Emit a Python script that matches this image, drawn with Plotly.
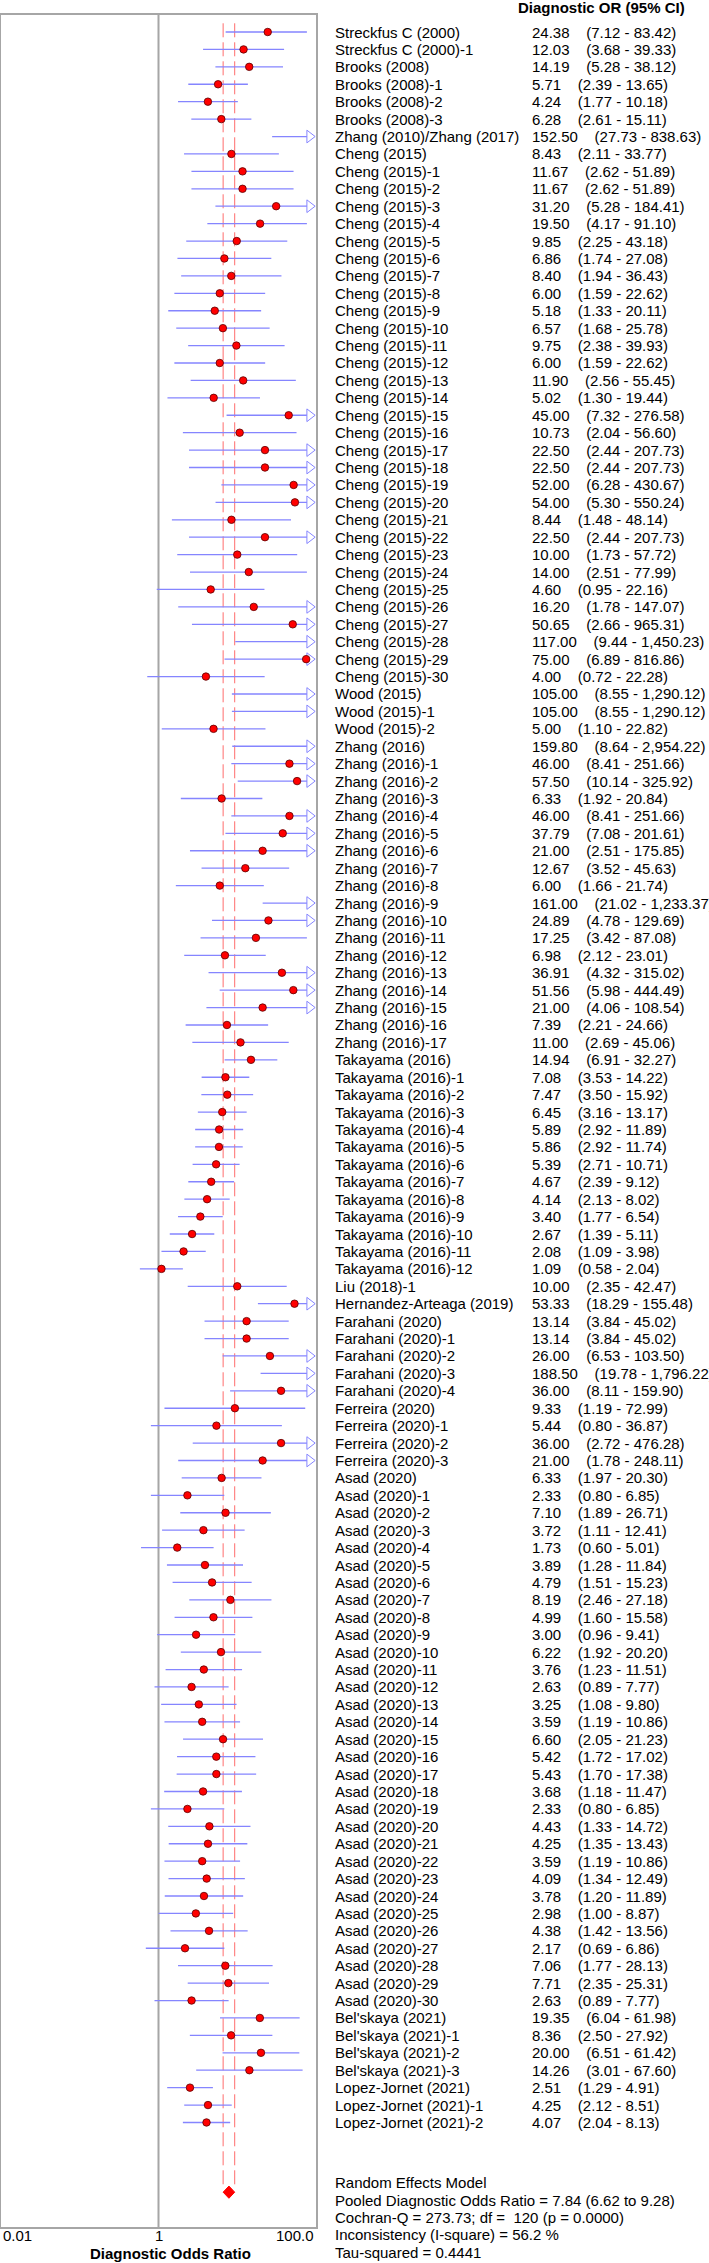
import math
import plotly.graph_objects as go

# Dados do forest plot (Diagnostic Odds Ratio e IC 95%)
studies = [
    "Streckfus C (2000)", "Streckfus C (2000)-1", "Brooks (2008)", "Brooks (2008)-1",
    "Brooks (2008)-2", "Brooks (2008)-3", "Zhang (2010)/Zhang (2017)",
    "Cheng (2015)", "Cheng (2015)-1", "Cheng (2015)-2", "Cheng (2015)-3", "Cheng (2015)-4",
    "Cheng (2015)-5", "Cheng (2015)-6", "Cheng (2015)-7", "Cheng (2015)-8", "Cheng (2015)-9",
    "Cheng (2015)-10", "Cheng (2015)-11", "Cheng (2015)-12", "Cheng (2015)-13", "Cheng (2015)-14",
    "Cheng (2015)-15", "Cheng (2015)-16", "Cheng (2015)-17", "Cheng (2015)-18", "Cheng (2015)-19",
    "Cheng (2015)-20", "Cheng (2015)-21", "Cheng (2015)-22", "Cheng (2015)-23", "Cheng (2015)-24",
    "Cheng (2015)-25", "Cheng (2015)-26", "Cheng (2015)-27", "Cheng (2015)-28", "Cheng (2015)-29",
    "Cheng (2015)-30",
    "Wood (2015)", "Wood (2015)-1", "Wood (2015)-2",
    "Zhang (2016)", "Zhang (2016)-1", "Zhang (2016)-2", "Zhang (2016)-3", "Zhang (2016)-4",
    "Zhang (2016)-5", "Zhang (2016)-6", "Zhang (2016)-7", "Zhang (2016)-8", "Zhang (2016)-9",
    "Zhang (2016)-10", "Zhang (2016)-11", "Zhang (2016)-12", "Zhang (2016)-13", "Zhang (2016)-14",
    "Zhang (2016)-15", "Zhang (2016)-16", "Zhang (2016)-17",
    "Takayama (2016)", "Takayama (2016)-1", "Takayama (2016)-2", "Takayama (2016)-3",
    "Takayama (2016)-4", "Takayama (2016)-5", "Takayama (2016)-6", "Takayama (2016)-7",
    "Takayama (2016)-8", "Takayama (2016)-9", "Takayama (2016)-10", "Takayama (2016)-11",
    "Takayama (2016)-12",
    "Liu (2018)-1", "Hernandez-Arteaga (2019)",
    "Farahani (2020)", "Farahani (2020)-1", "Farahani (2020)-2", "Farahani (2020)-3", "Farahani (2020)-4",
    "Ferreira (2020)", "Ferreira (2020)-1", "Ferreira (2020)-2", "Ferreira (2020)-3",
    "Asad (2020)", "Asad (2020)-1", "Asad (2020)-2", "Asad (2020)-3", "Asad (2020)-4",
    "Asad (2020)-5", "Asad (2020)-6", "Asad (2020)-7", "Asad (2020)-8", "Asad (2020)-9",
    "Asad (2020)-10", "Asad (2020)-11", "Asad (2020)-12", "Asad (2020)-13", "Asad (2020)-14",
    "Asad (2020)-15", "Asad (2020)-16", "Asad (2020)-17", "Asad (2020)-18", "Asad (2020)-19",
    "Asad (2020)-20", "Asad (2020)-21", "Asad (2020)-22", "Asad (2020)-23", "Asad (2020)-24",
    "Asad (2020)-25", "Asad (2020)-26", "Asad (2020)-27", "Asad (2020)-28", "Asad (2020)-29",
    "Asad (2020)-30",
    "Bel'skaya (2021)", "Bel'skaya (2021)-1", "Bel'skaya (2021)-2", "Bel'skaya (2021)-3",
    "Lopez-Jornet (2021)", "Lopez-Jornet (2021)-1", "Lopez-Jornet (2021)-2",
]

dor = [
    24.38, 12.03, 14.19, 5.71, 4.24, 6.28, 152.50,
    8.43, 11.67, 11.67, 31.20, 19.50, 9.85, 6.86, 8.40, 6.00, 5.18,
    6.57, 9.75, 6.00, 11.90, 5.02, 45.00, 10.73, 22.50, 22.50, 52.00,
    54.00, 8.44, 22.50, 10.00, 14.00, 4.60, 16.20, 50.65, 117.00, 75.00,
    4.00,
    105.00, 105.00, 5.00,
    159.80, 46.00, 57.50, 6.33, 46.00, 37.79, 21.00, 12.67, 6.00, 161.00,
    24.89, 17.25, 6.98, 36.91, 51.56, 21.00, 7.39, 11.00,
    14.94, 7.08, 7.47, 6.45, 5.89, 5.86, 5.39, 4.67, 4.14, 3.40, 2.67, 2.08, 1.09,
    10.00, 53.33,
    13.14, 13.14, 26.00, 188.50, 36.00,
    9.33, 5.44, 36.00, 21.00,
    6.33, 2.33, 7.10, 3.72, 1.73, 3.89, 4.79, 8.19, 4.99, 3.00,
    6.22, 3.76, 2.63, 3.25, 3.59, 6.60, 5.42, 5.43, 3.68, 2.33,
    4.43, 4.25, 3.59, 4.09, 3.78, 2.98, 4.38, 2.17, 7.06, 7.71, 2.63,
    19.35, 8.36, 20.00, 14.26,
    2.51, 4.25, 4.07,
]

ci_low = [
    7.12, 3.68, 5.28, 2.39, 1.77, 2.61, 27.73,
    2.11, 2.62, 2.62, 5.28, 4.17, 2.25, 1.74, 1.94, 1.59, 1.33,
    1.68, 2.38, 1.59, 2.56, 1.30, 7.32, 2.04, 2.44, 2.44, 6.28,
    5.30, 1.48, 2.44, 1.73, 2.51, 0.95, 1.78, 2.66, 9.44, 6.89,
    0.72,
    8.55, 8.55, 1.10,
    8.64, 8.41, 10.14, 1.92, 8.41, 7.08, 2.51, 3.52, 1.66, 21.02,
    4.78, 3.42, 2.12, 4.32, 5.98, 4.06, 2.21, 2.69,
    6.91, 3.53, 3.50, 3.16, 2.92, 2.92, 2.71, 2.39, 2.13, 1.77, 1.39, 1.09, 0.58,
    2.35, 18.29,
    3.84, 3.84, 6.53, 19.78, 8.11,
    1.19, 0.80, 2.72, 1.78,
    1.97, 0.80, 1.89, 1.11, 0.60, 1.28, 1.51, 2.46, 1.60, 0.96,
    1.92, 1.23, 0.89, 1.08, 1.19, 2.05, 1.72, 1.70, 1.18, 0.80,
    1.33, 1.35, 1.19, 1.34, 1.20, 1.00, 1.42, 0.69, 1.77, 2.35, 0.89,
    6.04, 2.50, 6.51, 3.01,
    1.29, 2.12, 2.04,
]

ci_high = [
    83.42, 39.33, 38.12, 13.65, 10.18, 15.11, 838.63,
    33.77, 51.89, 51.89, 184.41, 91.10, 43.18, 27.08, 36.43, 22.62, 20.11,
    25.78, 39.93, 22.62, 55.45, 19.44, 276.58, 56.60, 207.73, 207.73, 430.67,
    550.24, 48.14, 207.73, 57.72, 77.99, 22.16, 147.07, 965.31, 1450.23, 816.86,
    22.28,
    1290.12, 1290.12, 22.82,
    2954.22, 251.66, 325.92, 20.84, 251.66, 201.61, 175.85, 45.63, 21.74, 1233.37,
    129.69, 87.08, 23.01, 315.02, 444.49, 108.54, 24.66, 45.06,
    32.27, 14.22, 15.92, 13.17, 11.89, 11.74, 10.71, 9.12, 8.02, 6.54, 5.11, 3.98, 2.04,
    42.47, 155.48,
    45.02, 45.02, 103.50, 1796.22, 159.90,
    72.99, 36.87, 476.28, 248.11,
    20.30, 6.85, 26.71, 12.41, 5.01, 11.84, 15.23, 27.18, 15.58, 9.41,
    20.20, 11.51, 7.77, 9.80, 10.86, 21.23, 17.02, 17.38, 11.47, 6.85,
    14.72, 13.43, 10.86, 12.49, 11.89, 8.87, 13.56, 6.86, 28.13, 25.31, 7.77,
    61.98, 27.92, 61.42, 67.60,
    4.91, 8.51, 8.13,
]

pooled_dor = 7.84
pooled_low = 6.62
pooled_high = 9.28

stats_lines = [
    "Random Effects Model",
    "Pooled Diagnostic Odds Ratio = 7.84 (6.62 to 9.28)",
    "Cochran-Q = 273.73; df =\u00a0\u00a0120 (p = 0.0000)",
    "Inconsistency (I-square) = 56.2 %",
    "Tau-squared = 0.4441",
]

tick_vals = [0.01, 1, 100]
tick_text = ["0.01", "1", "100.0"]

# Geometria (pixels)
W, H = 709, 2263
M_L, M_R, M_T, M_B = 1, 393, 15, 36
PLOT_W = W - M_L - M_R
PLOT_H = H - M_T - M_B
XMIN, XMAX = 0.01, 100
PX_DEC = PLOT_W / (math.log10(XMAX) - math.log10(XMIN))
Y_TOP, Y_BOT = -0.976, 126.0
DIAMOND_ROW = 124
FONT = "Liberation Sans, Arial, sans-serif"
BLUE = "#8585ff"

# seta: triângulo aberto com a ponta na borda direita
ARROW_SIZE = 11
arrow_tip = ARROW_SIZE / 2 * 2 / math.sqrt(3)
ARROW_CENTER = XMAX / 10 ** (arrow_tip / PX_DEC)
ARROW_BASE = XMAX / 10 ** ((arrow_tip + ARROW_SIZE / 4) / PX_DEC)


def paper_x(px):
    return (px - M_L) / PLOT_W


def paper_y(py):
    return (H - M_B - py) / PLOT_H


rows = list(range(len(studies)))

fig = go.Figure()

# linha de nulidade (OR = 1)
fig.add_trace(go.Scatter(x=[1, 1], y=[Y_BOT + 5, Y_TOP - 5], mode="lines",
                         line=dict(color="#a6a6a6", width=2), hoverinfo="skip"))

# linhas tracejadas do IC combinado
fig.add_trace(go.Scatter(
    x=[pooled_low, pooled_low, None, pooled_high, pooled_high],
    y=[-0.5, DIAMOND_ROW - 0.35, None, -0.5, DIAMOND_ROW - 0.35],
    mode="lines", line=dict(color="rgba(255,60,60,0.75)", width=1, dash="14px,5px"),
    hoverinfo="skip"))

# intervalos de confiança
ci_x, ci_y, arrow_x, arrow_y = [], [], [], []
for i, (lo, hi) in enumerate(zip(ci_low, ci_high)):
    ci_x += [lo, min(hi, ARROW_BASE), None]
    ci_y += [i, i, None]
    if hi > XMAX:
        arrow_x.append(ARROW_CENTER)
        arrow_y.append(i)

fig.add_trace(go.Scatter(x=ci_x, y=ci_y, mode="lines",
                         line=dict(color=BLUE, width=1.3), hoverinfo="skip"))
fig.add_trace(go.Scatter(x=arrow_x, y=arrow_y, mode="markers", cliponaxis=False,
                         marker=dict(symbol="triangle-right-open", size=ARROW_SIZE,
                                     color=BLUE, line=dict(color=BLUE, width=1)),
                         hoverinfo="skip"))

# estimativas pontuais
fig.add_trace(go.Scatter(x=dor, y=rows, mode="markers", cliponaxis=True,
                         marker=dict(size=7.5, color="#ff0000",
                                     line=dict(color="#5a0000", width=0.8)),
                         hoverinfo="skip"))

# diamante do modelo de efeitos aleatórios
fig.add_trace(go.Scatter(
    x=[pooled_low, pooled_dor, pooled_high, pooled_dor, pooled_low],
    y=[DIAMOND_ROW, DIAMOND_ROW - 0.35, DIAMOND_ROW, DIAMOND_ROW + 0.35, DIAMOND_ROW],
    mode="lines", fill="toself", fillcolor="#ff0000",
    line=dict(color="#ff0000", width=1), hoverinfo="skip"))

annotations = []
sp = "\u00a0" * 4
for i, name in enumerate(studies):
    annotations.append(dict(x=paper_x(333), xref="paper", y=i, yref="y", text=name,
                            xanchor="left", yanchor="middle", showarrow=False,
                            font=dict(family=FONT, size=15, color="black")))
    val = f"{dor[i]:,.2f}{sp}({ci_low[i]:,.2f} - {ci_high[i]:,.2f})"
    annotations.append(dict(x=paper_x(530), xref="paper", y=i, yref="y", text=val,
                            xanchor="left", yanchor="middle", showarrow=False,
                            font=dict(family=FONT, size=15, color="black")))

annotations.append(dict(x=paper_x(516), xref="paper", y=paper_y(8), yref="paper",
                        text="<b>Diagnostic OR (95% CI)</b>", xanchor="left",
                        yanchor="middle", showarrow=False,
                        font=dict(family=FONT, size=15, color="black")))

for py, line in zip([2182, 2200, 2217, 2234, 2252], stats_lines):
    annotations.append(dict(x=paper_x(333), xref="paper", y=paper_y(py), yref="paper",
                            text=line, xanchor="left", yanchor="middle", showarrow=False,
                            font=dict(family=FONT, size=15, color="black")))

for v, t, anchor in zip(tick_vals, tick_text, ["left", "center", "right"]):
    annotations.append(dict(x=math.log10(v), xref="x", y=paper_y(2235), yref="paper",
                            text=t, xanchor=anchor, yanchor="middle", showarrow=False,
                            font=dict(family=FONT, size=15, color="black")))

annotations.append(dict(x=paper_x(170), xref="paper", y=paper_y(2253), yref="paper",
                        text="<b>Diagnostic Odds Ratio</b>", xanchor="center",
                        yanchor="middle", showarrow=False,
                        font=dict(family=FONT, size=15, color="black")))

fig.update_layout(
    width=W, height=H,
    margin=dict(l=M_L, r=M_R, t=M_T, b=M_B, pad=0),
    paper_bgcolor="white", plot_bgcolor="white",
    showlegend=False,
    annotations=annotations,
    xaxis=dict(type="log", range=[math.log10(XMIN), math.log10(XMAX)],
               showgrid=False, zeroline=False, showticklabels=False, ticks="",
               showline=True, mirror=True, linecolor="#a6a6a6", linewidth=2),
    yaxis=dict(range=[Y_BOT, Y_TOP], showgrid=False, zeroline=False,
               showticklabels=False, ticks="",
               showline=True, mirror=True, linecolor="#a6a6a6", linewidth=2),
)

# remove a margem padrão do <body> e a barra de ferramentas
fig.write_html("out.html", config={"displayModeBar": False},
               post_script="document.body.style.margin='0';")
